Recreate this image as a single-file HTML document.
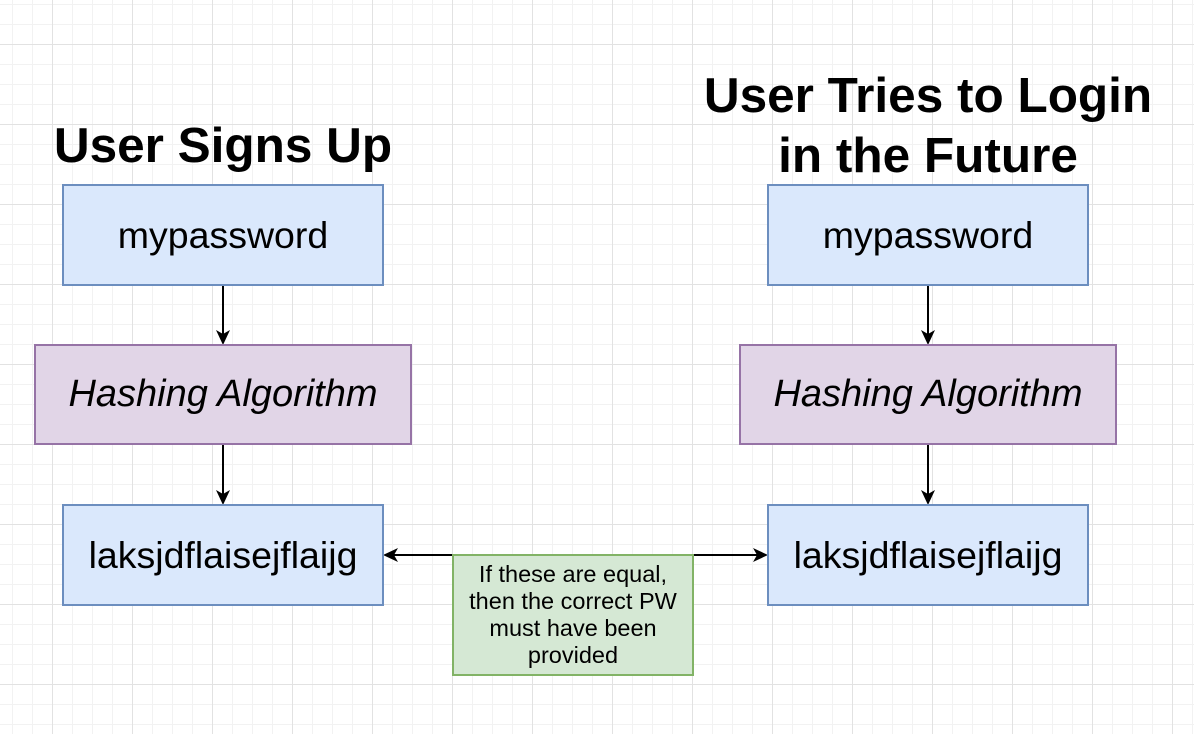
<!DOCTYPE html>
<html><head><meta charset="utf-8"><style>
body{margin:0;width:1194px;height:734px;overflow:hidden;background:#fff;font-family:"Liberation Sans",sans-serif;}
.bg{position:absolute;left:0;top:0;width:1194px;height:734px;
background-image:
linear-gradient(to right,#e2e2e2 1px,transparent 1px),
linear-gradient(to bottom,#e2e2e2 1px,transparent 1px),
linear-gradient(to right,#f2f2f2 1px,transparent 1px),
linear-gradient(to bottom,#f2f2f2 1px,transparent 1px);
background-size:80px 80px,80px 80px,20px 20px,20px 20px;
background-position:52px 44px,52px 44px,12px 4px,12px 4px;}
.b{position:absolute;box-sizing:border-box;display:flex;align-items:center;justify-content:center;text-align:center;color:#000;}
.blue{background:#dae8fc;border:2px solid #6c8ebf;font-size:37.5px;}
.pur{background:#e1d5e7;border:2px solid #9673a6;font-size:38px;font-style:italic;}
.grn{background:#d5e8d4;border:2px solid #82b366;font-size:23.5px;line-height:27px;}
.t{position:absolute;font-weight:bold;font-size:49.5px;text-align:center;line-height:60px;white-space:nowrap;}
</style></head><body>
<div class="bg"></div>
<svg style="position:absolute;left:0;top:0" width="1194" height="734">
<g stroke="#000" stroke-width="2" fill="none">
<line x1="223" y1="285" x2="223" y2="337"/>
<line x1="223" y1="444" x2="223" y2="497"/>
<line x1="928" y1="285" x2="928" y2="337"/>
<line x1="928" y1="444" x2="928" y2="497"/>
<line x1="392" y1="555" x2="453" y2="555"/>
<line x1="693" y1="555" x2="760" y2="555"/>
</g>
<g fill="#000">
<path d="M223 345 L216 330 L223 334 L230 330Z"/>
<path d="M223 505 L216 490 L223 494 L230 490Z"/>
<path d="M928 345 L921 330 L928 334 L935 330Z"/>
<path d="M928 505 L921 490 L928 494 L935 490Z"/>
<path d="M383 555 L398 548 L394 555 L398 562Z"/>
<path d="M768 555 L753 548 L757 555 L753 562Z"/>
</g>
</svg>
<div class="t" style="left:23px;top:116px;width:400px">User Signs Up</div>
<div class="t" style="left:678px;top:66px;width:500px">User Tries to Login<br>in the Future</div>
<div class="b blue" style="left:62px;top:184px;width:322px;height:102px">mypassword</div>
<div class="b pur" style="left:34px;top:344px;width:378px;height:101px">Hashing Algorithm</div>
<div class="b blue" style="left:62px;top:504px;width:322px;height:102px">laksjdflaisejflaijg</div>
<div class="b blue" style="left:767px;top:184px;width:322px;height:102px">mypassword</div>
<div class="b pur" style="left:739px;top:344px;width:378px;height:101px">Hashing Algorithm</div>
<div class="b blue" style="left:767px;top:504px;width:322px;height:102px">laksjdflaisejflaijg</div>
<div class="b grn" style="left:452px;top:554px;width:242px;height:122px">If these are equal,<br>then the correct PW<br>must have been<br>provided</div>
</body></html>
